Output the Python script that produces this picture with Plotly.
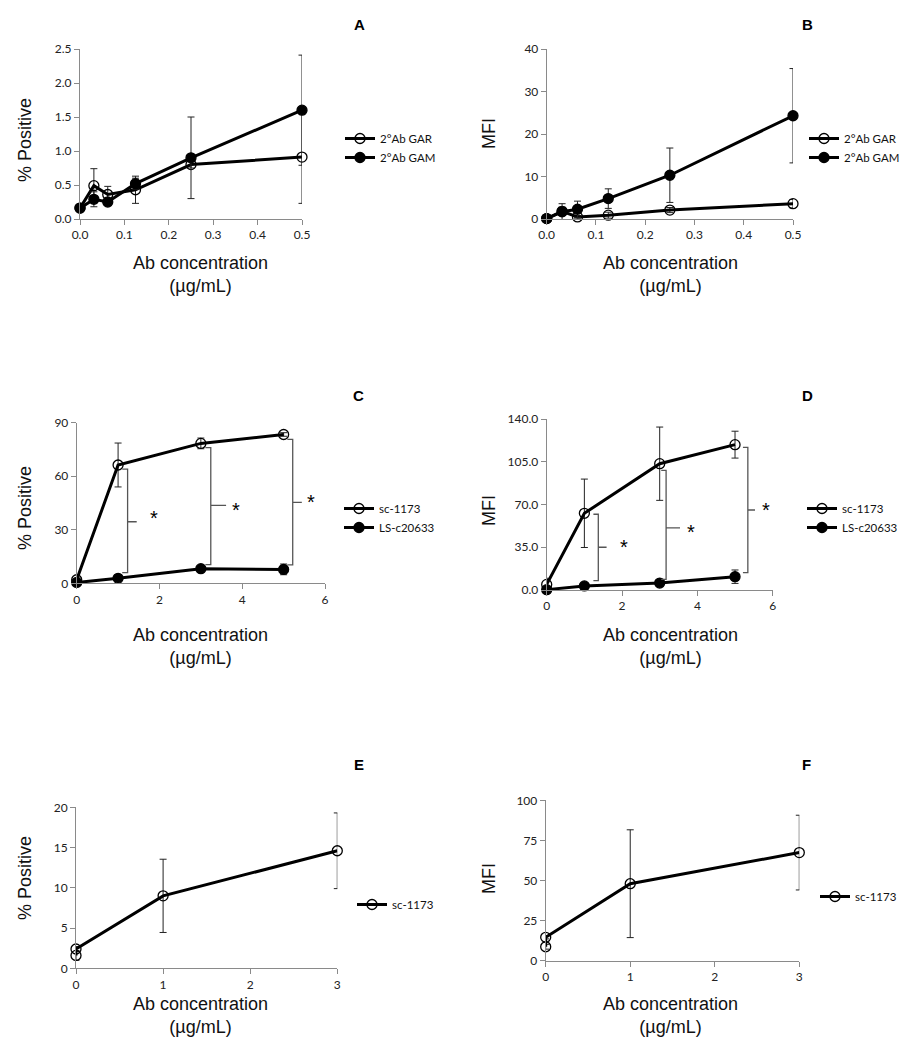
import plotly.graph_objects as go

W, H = 909, 1050

# ---------------- data ----------------
A_x = [0, 0.03125, 0.0625, 0.125, 0.25, 0.5]
A_gar = [0.16, 0.49, 0.36, 0.43, 0.80, 0.91]
A_gar_err = [0.02, 0.25, 0.12, 0.20, 0.05, 0.68]
A_gam = [0.16, 0.29, 0.25, 0.52, 0.90, 1.60]
A_gam_err = [0.02, 0.11, 0.05, 0.08, 0.60, 0.81]

B_x = [0, 0.03125, 0.0625, 0.125, 0.25, 0.5]
B_gar = [0.1, 1.8, 0.5, 0.9, 2.1, 3.6]
B_gar_err = [0.1, 1.0, 0.3, 0.7, 0.6, 1.0]
B_gam = [0.1, 1.7, 2.3, 4.8, 10.3, 24.3]
B_gam_err = [0.1, 1.9, 1.9, 2.3, 6.4, 11.1]

C_x = [0, 1, 3, 5]
C_sc = [2.0, 66.3, 78.4, 83.4]
C_sc_err = [1.0, 12.3, 3.0, 1.0]
C_ls = [0.5, 2.8, 8.2, 7.8]
C_ls_err = [0.5, 1.0, 1.0, 3.0]

D_x = [0, 1, 3, 5]
D_sc = [4.6, 62.8, 103.4, 119.0]
D_sc_err = [5.0, 28.0, 30.0, 11.0]
D_ls = [0.3, 3.3, 5.7, 10.9]
D_ls_err = [0.3, 1.0, 1.0, 5.5]

E_x = [0, 0, 1, 3]
E_sc = [1.6, 2.4, 9.0, 14.6]
E_sc_err = [0.6, 0.3, 4.55, 4.7]

F_x = [0, 0, 1, 3]
F_sc = [8.7, 14.6, 48.0, 67.4]
F_sc_err = [1.5, 1.0, 33.6, 23.3]

# significance brackets (x, top, bottom, middle, tip x) and star positions
C_br_x = [1.23, 3.24, 5.22]
C_br_top = [64, 76, 80.7]
C_br_bot = [6, 10.5, 10.3]
C_br_mid = [34.5, 43.7, 45.4]
C_br_tip = [1.45, 3.61, 5.44]
C_star_x = [1.87, 3.85, 5.65]
C_star_y = [39.6, 44, 48.5]

D_br_x = [1.37, 3.17, 5.34]
D_br_top = [62, 98, 116.8]
D_br_bot = [7.6, 8.7, 14.2]
D_br_mid = [35, 50.8, 65.5]
D_br_tip = [1.59, 3.54, 5.53]
D_star_x = [2.05, 3.82, 5.82]
D_star_y = [39.6, 51.9, 70]

XLAB = "Ab concentration<br>(µg/mL)"

# ---------------- layout helpers ----------------
TICKFONT = dict(family="Lato, Liberation Sans, sans-serif", size=12, color="#222")
AXCOL = "#8a8a8a"
TITLEFONT = dict(family="Liberation Sans, Arial, sans-serif", size=18, color="#111")

fig = go.Figure()
layout = dict(width=W, height=H, margin=dict(l=0, r=0, t=0, b=0),
              paper_bgcolor="white", plot_bgcolor="white", showlegend=True)

def px_x(p):
    return p / W

def px_y(p):
    return 1 - p / H

panels = {
    "A": ((80, 302, 49, 219), [0, 0.5], [0, 2.5], 0.1, 0.5, ".1f", ".1f"),
    "B": ((546.7, 793, 49, 219), [0, 0.5], [0, 40], 0.1, 10, ".1f", "d"),
    "C": ((76.7, 325, 422.7, 583.3), [0, 6], [0, 90], 2, 30, "d", "d"),
    "D": ((546.7, 772.7, 419, 590), [0, 6], [0, 140], 2, 35, "d", ".1f"),
    "E": ((76, 337.3, 807.3, 968.3), [0, 3], [0, 20], 1, 5, "d", "d"),
    "F": ((545.7, 799.3, 800.3, 960.7), [0, 3], [0, 100], 1, 25, "d", "d"),
}
names = list(panels.keys())
axref = {}
for i, n in enumerate(names):
    (x0, x1, yt, yb), xr, yr, xd, yd, xf, yf = panels[n]
    k = "" if i == 0 else str(i + 1)
    axref[n] = ("x" + k, "y" + k)
    layout["xaxis" + k] = dict(domain=[px_x(x0), px_x(x1)], range=xr, dtick=xd, tick0=0,
                               tickformat=xf, anchor="y" + k, showgrid=False, zeroline=False,
                               showline=True, linecolor=AXCOL, linewidth=1, ticks="outside",
                               ticklen=5, tickcolor=AXCOL, tickfont=TICKFONT, fixedrange=True,
                               automargin=False)
    layout["yaxis" + k] = dict(domain=[px_y(yb), px_y(yt)], range=yr, dtick=yd, tick0=0,
                               tickformat=yf, anchor="x" + k, showgrid=False, zeroline=False,
                               showline=True, linecolor=AXCOL, linewidth=1, ticks="outside",
                               ticklen=5, tickcolor=AXCOL, tickfont=TICKFONT, fixedrange=True,
                               automargin=False)

LEGFONT = dict(family="Lato, Liberation Sans, sans-serif", size=11.5, color="#111")
legpos = {"A": (340, 124), "B": (804, 124), "C": (339, 494), "D": (802, 494), "E": (352, 890), "F": (815, 882)}
for i, n in enumerate(names):
    key = "legend" if i == 0 else "legend" + str(i + 1)
    lx, ly = legpos[n]
    layout[key] = dict(x=px_x(lx), y=px_y(ly), xanchor="left", yanchor="top",
                       bgcolor="rgba(0,0,0,0)", borderwidth=0, font=LEGFONT,
                       itemwidth=30, tracegroupgap=0)

def add_series(n, x, y, err, name, filled):
    xa, ya = axref[n]
    i = names.index(n)
    leg = "legend" if i == 0 else "legend" + str(i + 1)
    fig.add_trace(go.Scatter(
        x=x, y=y, name=name, mode="lines+markers", xaxis=xa, yaxis=ya, legend=leg,
        line=dict(color="black", width=3),
        marker=dict(symbol="circle" if filled else "circle-open", size=10,
                    color="black", line=dict(color="black", width=1.3)),
        error_y=dict(type="data", array=err, visible=True, color="#222", thickness=1, width=3.5),
        cliponaxis=False))

add_series("A", A_x, A_gar, A_gar_err, "2°Ab GAR", False)
add_series("A", A_x, A_gam, A_gam_err, "2°Ab GAM", True)
add_series("B", B_x, B_gar, B_gar_err, "2°Ab GAR", False)
add_series("B", B_x, B_gam, B_gam_err, "2°Ab GAM", True)
add_series("C", C_x, C_sc, C_sc_err, "sc-1173", False)
add_series("C", C_x, C_ls, C_ls_err, "LS-c20633", True)
add_series("D", D_x, D_sc, D_sc_err, "sc-1173", False)
add_series("D", D_x, D_ls, D_ls_err, "LS-c20633", True)
add_series("E", E_x, E_sc, E_sc_err, "sc-1173", False)
add_series("F", F_x, F_sc, F_sc_err, "sc-1173", False)

annotations = []
def add_brackets(n, bx, top, bot, mid, tip, sx, sy):
    xa, ya = axref[n]
    serif = 0.13
    for j in range(len(bx)):
        xs = [bx[j] - serif, bx[j], bx[j], tip[j], bx[j], bx[j], bx[j] - serif]
        ys = [top[j], top[j], mid[j], mid[j], mid[j], bot[j], bot[j]]
        fig.add_trace(go.Scatter(x=xs, y=ys, mode="lines", xaxis=xa, yaxis=ya,
                                 line=dict(color="#555", width=1.3), showlegend=False,
                                 hoverinfo="skip", cliponaxis=False))
        annotations.append(dict(x=sx[j], y=sy[j], xref=xa, yref=ya, text="*", showarrow=False,
                                font=dict(family="Liberation Sans, Arial, sans-serif", size=20, color="black"),
                                yshift=-5))

add_brackets("C", C_br_x, C_br_top, C_br_bot, C_br_mid, C_br_tip, C_star_x, C_star_y)
add_brackets("D", D_br_x, D_br_top, D_br_bot, D_br_mid, D_br_tip, D_star_x, D_star_y)

letters = {"A": (359, 24), "B": (807, 24), "C": (358, 395), "D": (807, 395), "E": (359, 764), "F": (806, 764)}
for n, (lx, ly) in letters.items():
    annotations.append(dict(x=px_x(lx), y=px_y(ly), xref="paper", yref="paper", text="<b>%s</b>" % n,
                            showarrow=False, xanchor="center", yanchor="middle",
                            font=dict(family="Liberation Sans, Arial, sans-serif", size=15, color="black")))

ytitles = {"A": ("% Positive", 25, 140), "B": ("MFI", 489, 133), "C": ("% Positive", 25, 508),
           "D": ("MFI", 489, 510), "E": ("% Positive", 25, 878), "F": ("MFI", 489, 878)}
for n, (t, tx, ty) in ytitles.items():
    annotations.append(dict(x=px_x(tx), y=px_y(ty), xref="paper", yref="paper", text=t, textangle=-90,
                            showarrow=False, xanchor="center", yanchor="middle", font=TITLEFONT))
xtitles = {"A": (200, 274), "B": (670, 274), "C": (200, 646), "D": (670, 646), "E": (200, 1015), "F": (670, 1015)}
for n, (tx, ty) in xtitles.items():
    annotations.append(dict(x=px_x(tx), y=px_y(ty), xref="paper", yref="paper", text=XLAB,
                            showarrow=False, xanchor="center", yanchor="middle", font=TITLEFONT))

layout["annotations"] = annotations
fig.update_layout(**layout)
fig.write_html("out.html", config={"displayModeBar": False},
               post_script="document.body.style.margin='0';document.body.style.overflow='hidden';")
